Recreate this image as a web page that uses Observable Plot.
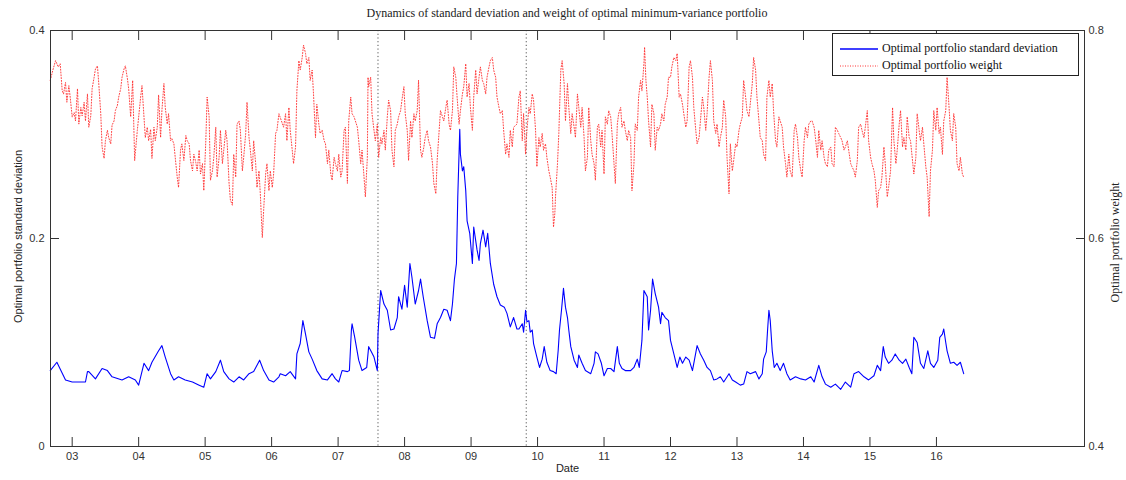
<!DOCTYPE html>
<html><head><meta charset="utf-8">
<script src="https://cdn.jsdelivr.net/npm/d3@7"></script>
<script src="https://cdn.jsdelivr.net/npm/@observablehq/plot@0.6"></script>
<style>
body{margin:0;background:#fff;}
#wrap{position:relative;width:1126px;height:480px;}
#title{height:22px;line-height:14px;padding-top:6px;box-sizing:border-box;width:1134px;text-align:center;font:12px "Liberation Serif";color:#222;}
#legend{position:absolute;left:832px;top:33px;border:1px solid #222;background:#fff;font:12px "Liberation Serif";color:#111;padding-top:6px;box-sizing:border-box;height:43px;width:247px;}
.row{display:flex;align-items:center;height:17px;}
.row svg{margin-left:7px;margin-right:4px;}
</style></head><body>
<div id="wrap">
<div id="title">Dynamics of standard deviation and weight of optimal minimum-variance portfolio</div>
<div id="chart"></div>
<div id="legend">
<div class="row"><svg width="38" height="6"><line x1="0" y1="3" x2="38" y2="3" stroke="#0000ff" stroke-width="1.3"/></svg><span>Optimal portfolio standard deviation</span></div>
<div class="row"><svg width="38" height="6"><line x1="0" y1="3" x2="38" y2="3" stroke="#ff3333" stroke-width="1" stroke-dasharray="1,1.5"/></svg><span>Optimal portfolio weight</span></div>
</div>
</div>
<script>
const tickYears = [2003,2004,2005,2006,2007,2008,2009,2010,2011,2012,2013,2014,2015,2016];
const tickLabels = ["03","04","05","06","07","08","09","10","11","12","13","14","15","16"];
const stdTicks = [0, 0.2, 0.4];
const weightTicks = [0.4, 0.6, 0.8];
const breakDates = [2007.60, 2009.83];
const xDomain = [2002.674, 2018.227];
const stdDomain = [0, 0.4];
const weightBase = 0.4;

const stdPoints = [
[2002.67,.073],[2002.77,.081],[2002.90,.064],[2003.00,.062],[2003.10,.062],[2003.20,.062],[2003.23,.072],[2003.25,.072],[2003.35,.065],[2003.45,.075],[2003.53,.073],[2003.60,.067],[2003.75,.064],[2003.85,.067],[2003.95,.064],[2004.00,.059],[2004.08,.080],[2004.15,.073],[2004.20,.081],[2004.30,.092],[2004.35,.097],[2004.40,.086],[2004.48,.070],[2004.53,.064],[2004.60,.067],[2004.70,.064],[2004.81,.062],[2004.91,.059],[2004.98,.057],[2005.03,.070],[2005.08,.065],[2005.16,.072],[2005.23,.083],[2005.28,.072],[2005.36,.065],[2005.43,.062],[2005.51,.067],[2005.58,.064],[2005.66,.070],[2005.73,.072],[2005.82,.083],[2005.88,.073],[2005.96,.064],[2006.03,.062],[2006.11,.067],
[2006.13,.070],[2006.21,.068],[2006.28,.072],[2006.36,.065],[2006.38,.089],[2006.43,.099],[2006.47,.121],[2006.51,.108],[2006.56,.091],[2006.61,.084],[2006.68,.073],[2006.76,.065],[2006.84,.064],[2006.91,.070],[2006.96,.065],[2007.01,.062],[2007.06,.073],[2007.14,.072],[2007.17,.073],[2007.20,.112],[2007.21,.118],[2007.25,.105],[2007.31,.083],[2007.36,.073],[2007.43,.076],[2007.46,.096],[2007.50,.091],[2007.54,.086],[2007.59,.073],[2007.60,.108],[2007.64,.150],[2007.69,.137],[2007.74,.131],[2007.79,.112],[2007.84,.113],[2007.89,.124],[2007.91,.144],[2007.96,.132],[2008.00,.155],[2008.04,.134],[2008.08,.176],[2008.11,.163],[2008.16,.137],[2008.21,.150],[2008.24,.161],[2008.28,.144],[2008.34,.121],[2008.39,.105],[2008.45,.104],[2008.49,.118],[2008.54,.124],[2008.59,.132],[2008.64,.131],[2008.69,.121],[2008.72,.137],[2008.75,.161],[2008.78,.176],[2008.80,.240],[2008.83,.305],[2008.84,.281],[2008.87,.265],[2008.89,.269],[2008.92,.246],[2008.94,.217],[2008.98,.205],[2009.02,.176],[2009.04,.211],[2009.09,.189],[2009.12,.179],[2009.14,.195],[2009.18,.208],[2009.22,.192],[2009.25,.205],[2009.29,.176],[2009.34,.156],[2009.39,.144],[2009.44,.136],[2009.50,.134],[2009.54,.128],[2009.59,.115],[2009.64,.124],[2009.69,.113],
[2009.72,.113],[2009.77,.118],[2009.79,.110],[2009.82,.131],[2009.84,.120],[2009.87,.121],[2009.89,.110],[2009.92,.112],[2009.94,.099],[2009.99,.086],[2010.03,.076],[2010.07,.084],[2010.10,.096],[2010.14,.081],[2010.19,.073],[2010.24,.072],[2010.28,.070],[2010.31,.092],[2010.33,.112],[2010.36,.131],[2010.39,.152],[2010.42,.134],[2010.45,.124],[2010.47,.112],[2010.50,.096],[2010.55,.083],[2010.60,.076],[2010.62,.088],[2010.67,.080],[2010.72,.073],[2010.80,.070],[2010.85,.080],[2010.87,.091],[2010.91,.089],[2010.96,.080],[2011.00,.068],[2011.05,.075],[2011.10,.075],[2011.15,.072],[2011.20,.096],[2011.23,.080],[2011.27,.075],[2011.32,.073],[2011.40,.073],[2011.45,.076],[2011.50,.084],[2011.53,.076],[2011.57,.102],[2011.60,.150],[2011.65,.144],[2011.67,.112],[2011.70,.131],[2011.73,.161],[2011.77,.147],[2011.82,.134],[2011.85,.118],[2011.87,.129],[2011.92,.124],[2011.97,.121],[2012.00,.102],[2012.05,.089],[2012.10,.076],[2012.14,.086],[2012.18,.080],[2012.23,.086],[2012.28,.083],[2012.33,.073],[2012.40,.097],[2012.45,.089],[2012.50,.083],[2012.55,.076],[2012.60,.073],[2012.65,.064],[2012.70,.065],[2012.75,.067],[2012.80,.062],[2012.88,.070],[2012.93,.064],[2012.98,.062],[2013.05,.059],[2013.10,.060],[2013.15,.072],
[2013.20,.070],[2013.28,.072],[2013.33,.065],[2013.38,.070],[2013.40,.084],[2013.44,.091],[2013.46,.112],[2013.48,.131],[2013.50,.121],[2013.53,.092],[2013.56,.076],[2013.60,.080],[2013.65,.073],[2013.70,.080],[2013.75,.070],[2013.80,.064],[2013.88,.067],[2013.96,.065],[2014.03,.064],[2014.11,.067],[2014.16,.062],[2014.23,.078],[2014.28,.067],[2014.33,.060],[2014.41,.057],[2014.48,.060],[2014.56,.055],[2014.63,.062],[2014.71,.057],[2014.76,.070],[2014.83,.072],[2014.91,.067],[2014.98,.064],[2015.06,.068],[2015.11,.078],[2015.16,.073],[2015.20,.096],[2015.23,.086],[2015.28,.080],[2015.33,.083],[2015.38,.089],[2015.44,.083],[2015.49,.080],[2015.54,.084],[2015.59,.076],[2015.63,.070],[2015.66,.105],[2015.71,.100],[2015.76,.080],[2015.81,.075],[2015.87,.092],[2015.91,.080],[2015.96,.076],[2016.02,.083],[2016.05,.105],[2016.09,.108],[2016.11,.113],[2016.14,.100],[2016.16,.092],[2016.21,.080],[2016.26,.081],[2016.31,.078],[2016.36,.081],[2016.41,.070]
];

const weightPoints = [
[2002.67,.752],[2002.71,.762],[2002.75,.771],[2002.79,.765],[2002.82,.768],[2002.85,.742],[2002.87,.739],[2002.90,.750],[2002.92,.731],[2002.95,.747],[2002.97,.736],[2003.00,.717],[2003.03,.721],[2003.05,.713],[2003.08,.744],[2003.10,.710],[2003.13,.726],[2003.15,.718],[2003.18,.731],[2003.20,.713],[2003.23,.739],[2003.25,.707],[2003.28,.718],[2003.30,.744],[2003.33,.755],[2003.35,.763],[2003.38,.766],[2003.40,.749],[2003.43,.720],[2003.45,.688],[2003.48,.677],[2003.50,.694],[2003.53,.704],[2003.55,.697],[2003.58,.691],[2003.60,.709],[2003.63,.713],[2003.65,.723],[2003.68,.728],[2003.70,.736],[2003.73,.744],[2003.75,.755],[2003.78,.763],[2003.80,.766],[2003.83,.754],[2003.85,.744],[2003.88,.717],[2003.91,.752],[2003.94,.675],[2003.98,.704],[2004.03,.736],[2004.05,.747],[2004.08,.717],[2004.10,.697],[2004.13,.707],[2004.15,.694],[2004.18,.705],[2004.20,.677],[2004.23,.707],[2004.25,.694],[2004.28,.707],[2004.30,.738],[2004.33,.697],[2004.35,.723],[2004.38,.749],[2004.40,.726],[2004.43,.710],[2004.45,.720],[2004.48,.694],[2004.50,.696],[2004.53,.691],[2004.55,.678],[2004.58,.659],[2004.60,.649],[2004.63,.685],[2004.65,.691],[2004.68,.675],[2004.71,.699],[2004.73,.694],[2004.76,.691],[2004.78,.675],[2004.81,.665],[2004.83,.681],[2004.86,.673],[2004.88,.665],[2004.91,.685],[2004.93,.662],[2004.96,.672],[2004.98,.646],[2005.01,.694],[2005.03,.736],[2005.06,.717],[2005.08,.656],[2005.11,.665],[2005.13,.678],[2005.16,.707],[2005.18,.659],[2005.21,.678],[2005.23,.704],[2005.26,.672],[2005.28,.685],[2005.31,.704],[2005.33,.694],[2005.36,.653],[2005.38,.637],[2005.41,.632],[2005.43,.681],[2005.46,.659],[2005.48,.710],[2005.51,.713],[2005.53,.704],[2005.56,.665],[2005.58,.678],[2005.61,.701],[2005.63,.731],[2005.66,.697],[2005.68,.685],[2005.71,.665],[2005.73,.694],[2005.76,.672],[2005.78,.649],[2005.81,.665],[2005.83,.643],[2005.86,.601],[2005.88,.627],[2005.91,.662],[2005.93,.672],[2005.96,.646],[2005.98,.665],[2006.01,.649],[2006.03,.662],[2006.06,.701],[2006.08,.704],[2006.11,.720],
[2006.18,.707],[2006.21,.720],[2006.23,.694],[2006.26,.726],[2006.28,.704],[2006.31,.685],[2006.33,.672],[2006.36,.688],[2006.38,.742],[2006.41,.771],[2006.43,.762],[2006.46,.774],[2006.48,.786],[2006.51,.778],[2006.53,.768],[2006.56,.774],[2006.58,.752],[2006.61,.762],[2006.63,.739],[2006.66,.697],[2006.68,.729],[2006.71,.710],[2006.73,.701],[2006.76,.704],[2006.79,.694],[2006.81,.691],[2006.84,.672],[2006.86,.685],[2006.89,.662],[2006.91,.656],[2006.94,.678],[2006.96,.672],[2006.99,.665],[2007.01,.681],[2007.04,.659],[2007.06,.665],[2007.09,.704],[2007.11,.707],[2007.14,.653],[2007.16,.713],[2007.19,.736],[2007.21,.720],[2007.24,.717],[2007.26,.713],[2007.29,.707],[2007.31,.694],[2007.34,.672],[2007.36,.685],[2007.39,.659],[2007.41,.640],[2007.44,.678],[2007.45,.755],[2007.46,.746],[2007.49,.755],[2007.51,.720],[2007.54,.704],[2007.56,.694],[2007.59,.710],[2007.61,.678],[2007.64,.697],[2007.66,.691],[2007.69,.704],[2007.71,.685],[2007.74,.717],[2007.76,.733],[2007.79,.723],[2007.81,.685],[2007.84,.669],[2007.86,.704],[2007.89,.710],[2007.91,.717],[2007.94,.723],[2007.96,.733],[2007.99,.746],[2008.01,.720],[2008.04,.704],[2008.06,.675],[2008.09,.713],[2008.11,.697],[2008.14,.720],[2008.16,.713],[2008.19,.723],[2008.21,.752],[2008.24,.685],[2008.26,.678],[2008.29,.688],[2008.31,.697],[2008.34,.704],[2008.36,.694],[2008.39,.688],[2008.42,.672],[2008.44,.653],[2008.47,.643],[2008.49,.675],[2008.52,.704],[2008.54,.723],[2008.57,.717],[2008.59,.713],[2008.62,.726],[2008.64,.733],[2008.67,.710],[2008.69,.704],[2008.72,.723],[2008.74,.765],[2008.77,.755],[2008.79,.736],[2008.82,.710],[2008.84,.723],[2008.87,.739],[2008.89,.746],[2008.92,.768],[2008.94,.736],[2008.97,.749],[2008.99,.726],[2009.02,.704],[2009.04,.736],[2009.07,.762],[2009.09,.739],[2009.12,.755],[2009.14,.765],[2009.17,.752],[2009.19,.749],[2009.22,.739],[2009.24,.755],[2009.27,.765],[2009.29,.771],[2009.32,.774],[2009.34,.762],[2009.37,.755],[2009.39,.736],[2009.42,.726],[2009.44,.720],[2009.47,.723],[2009.49,.704],[2009.52,.681],[2009.54,.691],[2009.57,.678],[2009.59,.704],[2009.62,.688],[2009.64,.707],
[2009.69,.710],[2009.72,.736],[2009.74,.742],[2009.77,.694],[2009.79,.720],[2009.82,.681],[2009.84,.704],[2009.87,.726],[2009.89,.720],[2009.92,.739],[2009.94,.733],[2009.97,.704],[2009.99,.669],[2010.02,.697],[2010.04,.688],[2010.07,.701],[2010.09,.685],[2010.12,.691],[2010.14,.678],[2010.17,.665],[2010.19,.659],[2010.22,.649],[2010.24,.611],[2010.26,.624],[2010.27,.640],[2010.30,.672],[2010.32,.701],[2010.35,.762],[2010.37,.771],[2010.40,.749],[2010.42,.713],[2010.45,.749],[2010.47,.726],[2010.50,.701],[2010.52,.720],[2010.55,.707],[2010.57,.697],[2010.60,.739],[2010.62,.726],[2010.65,.707],[2010.67,.726],[2010.70,.697],[2010.72,.665],[2010.75,.678],[2010.77,.726],[2010.80,.694],[2010.82,.681],[2010.85,.672],[2010.87,.656],[2010.90,.707],[2010.92,.710],[2010.95,.688],[2010.97,.704],[2011.00,.662],[2011.02,.717],[2011.05,.710],[2011.07,.723],[2011.10,.717],[2011.12,.701],[2011.15,.672],[2011.17,.653],[2011.20,.710],[2011.22,.720],[2011.25,.726],[2011.27,.707],[2011.30,.713],[2011.32,.704],[2011.35,.694],[2011.37,.704],[2011.40,.697],[2011.42,.646],[2011.45,.672],[2011.47,.710],[2011.50,.704],[2011.52,.736],[2011.55,.752],[2011.57,.742],[2011.60,.768],[2011.61,.784],[2011.63,.752],[2011.65,.736],[2011.67,.713],[2011.70,.688],[2011.72,.729],[2011.75,.720],[2011.77,.685],[2011.80,.707],[2011.82,.704],[2011.85,.710],[2011.87,.720],[2011.90,.713],[2011.92,.729],[2011.95,.736],[2011.97,.755],[2012.00,.755],[2012.02,.765],[2012.05,.774],[2012.08,.771],[2012.10,.778],[2012.13,.736],[2012.15,.739],[2012.18,.729],[2012.20,.720],[2012.23,.707],[2012.25,.713],[2012.28,.765],[2012.30,.771],[2012.33,.755],[2012.35,.726],[2012.38,.704],[2012.40,.691],[2012.43,.697],[2012.45,.713],[2012.48,.736],[2012.50,.726],[2012.53,.704],[2012.55,.720],[2012.58,.755],[2012.60,.771],[2012.63,.752],[2012.65,.713],[2012.68,.701],[2012.70,.710],[2012.73,.688],[2012.75,.697],[2012.78,.707],[2012.80,.733],[2012.83,.717],[2012.85,.678],[2012.88,.643],[2012.90,.691],[2012.93,.665],[2012.95,.675],[2012.98,.691],[2013.00,.688],[2013.03,.704],[2013.05,.710],[2013.08,.717],[2013.10,.752],[2013.13,.736],[2013.15,.723],[2013.18,.717],
[2013.23,.749],[2013.25,.774],[2013.28,.762],[2013.30,.736],[2013.33,.713],[2013.35,.697],[2013.38,.694],[2013.40,.681],[2013.43,.675],[2013.45,.736],[2013.48,.752],[2013.50,.736],[2013.53,.749],[2013.55,.723],[2013.58,.694],[2013.60,.688],[2013.63,.717],[2013.65,.713],[2013.68,.707],[2013.70,.688],[2013.73,.672],[2013.75,.659],[2013.78,.681],[2013.80,.665],[2013.83,.659],[2013.86,.704],[2013.88,.710],[2013.91,.697],[2013.93,.678],[2013.96,.665],[2013.98,.659],[2014.01,.694],[2014.03,.707],[2014.06,.697],[2014.08,.710],[2014.11,.713],[2014.13,.713],[2014.16,.707],[2014.18,.697],[2014.21,.678],[2014.23,.704],[2014.26,.685],[2014.28,.694],[2014.31,.678],[2014.33,.672],[2014.36,.669],[2014.38,.685],[2014.41,.688],[2014.43,.672],[2014.46,.669],[2014.48,.707],[2014.51,.704],[2014.53,.701],[2014.56,.697],[2014.58,.694],[2014.61,.685],[2014.63,.688],[2014.66,.694],[2014.68,.685],[2014.71,.672],[2014.73,.669],[2014.76,.665],[2014.78,.659],[2014.81,.675],[2014.83,.707],[2014.86,.710],[2014.88,.704],[2014.91,.697],[2014.93,.707],[2014.96,.723],[2014.98,.694],[2015.01,.678],[2015.03,.672],[2015.06,.665],[2015.08,.656],[2015.11,.630],[2015.13,.646],[2015.16,.649],[2015.18,.659],[2015.21,.688],[2015.23,.672],[2015.26,.640],[2015.28,.649],[2015.31,.665],[2015.34,.726],[2015.36,.694],[2015.39,.672],[2015.41,.685],[2015.44,.710],[2015.46,.723],[2015.49,.688],[2015.51,.697],[2015.54,.685],[2015.56,.717],[2015.59,.697],[2015.61,.694],[2015.64,.675],[2015.66,.662],[2015.69,.678],[2015.71,.720],[2015.74,.704],[2015.76,.694],[2015.79,.707],[2015.81,.691],[2015.84,.669],[2015.86,.659],[2015.89,.621],[2015.91,.665],[2015.94,.685],[2015.96,.723],[2015.99,.704],[2016.01,.726],[2016.04,.701],[2016.06,.707],[2016.09,.681],[2016.11,.713],[2016.14,.723],[2016.16,.755],[2016.19,.726],[2016.21,.704],[2016.24,.694],[2016.26,.720],[2016.29,.707],[2016.31,.672],[2016.34,.665],[2016.36,.678],[2016.39,.662],[2016.41,.659]
];

const labelByYear = new Map(tickYears.map((y, i) => [y, tickLabels[i]]));
const stdFmt = d => d === 0 ? "0" : d.toFixed(1);
const toStdScale = w => w - weightBase;

const chart = Plot.plot({
  width: 1126,
  height: 458,
  marginTop: 8,
  marginBottom: 34,
  marginLeft: 50,
  marginRight: 42,
  style: {fontFamily: "'Liberation Sans', Arial, sans-serif", fontSize: "11px", color: "#333", background: "#fff", overflow: "visible"},
  x: {domain: xDomain, type: "linear"},
  y: {domain: stdDomain},
  marks: [
    Plot.ruleX(breakDates, {stroke: "#555", strokeDasharray: "1.2,2.5", strokeWidth: 1}),
    Plot.line(weightPoints, {x: d => d[0], y: d => toStdScale(d[1]), stroke: "#ff3030", strokeWidth: 1, strokeDasharray: "1,1.8", strokeOpacity: 0.9}),
    Plot.line(stdPoints, {x: d => d[0], y: d => d[1], stroke: "#0000ff", strokeWidth: 1.1}),
    Plot.frame({stroke: "#333", strokeWidth: 1}),
    Plot.axisX(tickYears, {anchor: "bottom", tickSize: -9, tickFormat: () => "", label: null, stroke: "#333"}),
    Plot.axisX(tickYears, {anchor: "top", tickSize: -9, tickFormat: () => "", label: null, stroke: "#333"}),
    Plot.axisX(tickYears, {anchor: "bottom", tickSize: 0, tickPadding: 6, tickFormat: d => labelByYear.get(d), label: null, fill: "#333"}),
    Plot.axisY(stdTicks, {anchor: "left", tickSize: -9, tickFormat: () => "", label: null, stroke: "#333"}),
    Plot.axisY(stdTicks, {anchor: "left", tickSize: 0, tickPadding: 6, tickFormat: stdFmt, label: null, fill: "#333"}),
    Plot.axisY(weightTicks.map(toStdScale), {anchor: "right", tickSize: -9, tickFormat: () => "", label: null, stroke: "#333"}),
    Plot.axisY(weightTicks.map(toStdScale), {anchor: "right", tickSize: 0, tickPadding: 4, tickFormat: d => (d + weightBase).toFixed(1), label: null, fill: "#333"}),
    Plot.text(["Optimal portfolio standard deviation"], {text: d => d, frameAnchor: "left", textAnchor: "middle", dx: -32, dy: -2, rotate: -90, fontSize: 11, fill: "#222"}),
    Plot.text(["Optimal portfolio weight"], {text: d => d, frameAnchor: "right", textAnchor: "middle", dx: 31, dy: 4, rotate: -90, fontSize: 12, fill: "#222", fontFamily: "'Liberation Serif', serif"}),
    Plot.text(["Date"], {text: d => d, frameAnchor: "bottom", dy: 25, fontSize: 11, fill: "#222"})
  ]
});
document.getElementById("chart").appendChild(chart);
</script>
</body></html>
